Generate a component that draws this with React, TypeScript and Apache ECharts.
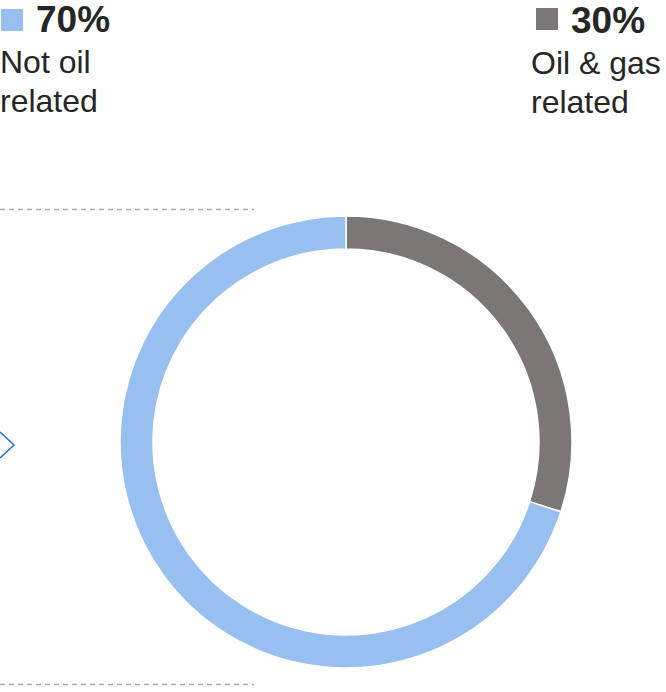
import React, { useEffect, useRef } from "react";
import * as echarts from "echarts";

const categories = ["Oil & gas related", "Not oil related"];
const values = [30, 70];
const colors = ["#7b7776", "#97bff0"];
const percentLabels = ["30%", "70%"];
const labelLines = [["Oil & gas", "related"], ["Not oil", "related"]];

export default function App() {
  const ref = useRef<HTMLDivElement>(null);
  useEffect(() => {
    if (!ref.current) return;
    const chart = echarts.init(ref.current, undefined, { renderer: "svg" });
    const font = "'Liberation Sans', Arial, Helvetica, sans-serif";
    const blocks = [
      { i: 1, sqX: 1, sqY: 9, pctX: 36, txtX: 0 },
      { i: 0, sqX: 536, sqY: 8, pctX: 571, txtX: 531 },
    ];
    const graphics: any[] = [];
    blocks.forEach((b, k) => {
      const dy = k === 1 ? 1 : 0;
      graphics.push({
        type: "rect",
        shape: { x: b.sqX, y: b.sqY, width: 22, height: 22 },
        style: { fill: colors[b.i] },
      });
      graphics.push({
        type: "text",
        x: b.pctX,
        y: 19 + dy,
        style: {
          text: percentLabels[b.i],
          fontFamily: font,
          fontWeight: "bold",
          fontSize: 37,
          fill: "#262626",
          verticalAlign: "middle",
          align: "left",
        },
      });
      labelLines[b.i].forEach((line, j) => {
        graphics.push({
          type: "text",
          x: b.txtX,
          y: 62 + dy + j * 38.5,
          style: {
            text: line,
            fontFamily: font,
            fontSize: 32,
            fill: "#262626",
            verticalAlign: "middle",
            align: "left",
          },
        });
      });
    });
    [209, 684].forEach((y) => {
      graphics.push({
        type: "line",
        shape: { x1: 0, y1: y + 0.5, x2: 254, y2: y + 0.5 },
        style: { stroke: "#b0a9a9", lineWidth: 1.3, lineDash: [5, 4] },
      });
    });
    graphics.push({
      type: "polyline",
      shape: { points: [[0, 432], [14, 445], [0, 458]] },
      style: { stroke: "#2270d0", lineWidth: 1.5, fill: "none" },
    });

    chart.setOption({
      animation: false,
      graphic: graphics,
      series: [
        {
          type: "pie",
          center: [346, 442],
          radius: [193, 226],
          startAngle: 90,
          clockwise: true,
          silent: true,
          label: { show: false },
          labelLine: { show: false },
          itemStyle: { borderColor: "#ffffff", borderWidth: 1.5 },
          data: categories.map((c, i) => ({
            name: c,
            value: values[i],
            itemStyle: { color: colors[i] },
          })),
        },
      ],
    });
    return () => chart.dispose();
  }, []);
  return (
    <div
      ref={ref}
      style={{ position: "fixed", left: 0, top: 0, width: 666, height: 692, background: "#fff" }}
    />
  );
}
